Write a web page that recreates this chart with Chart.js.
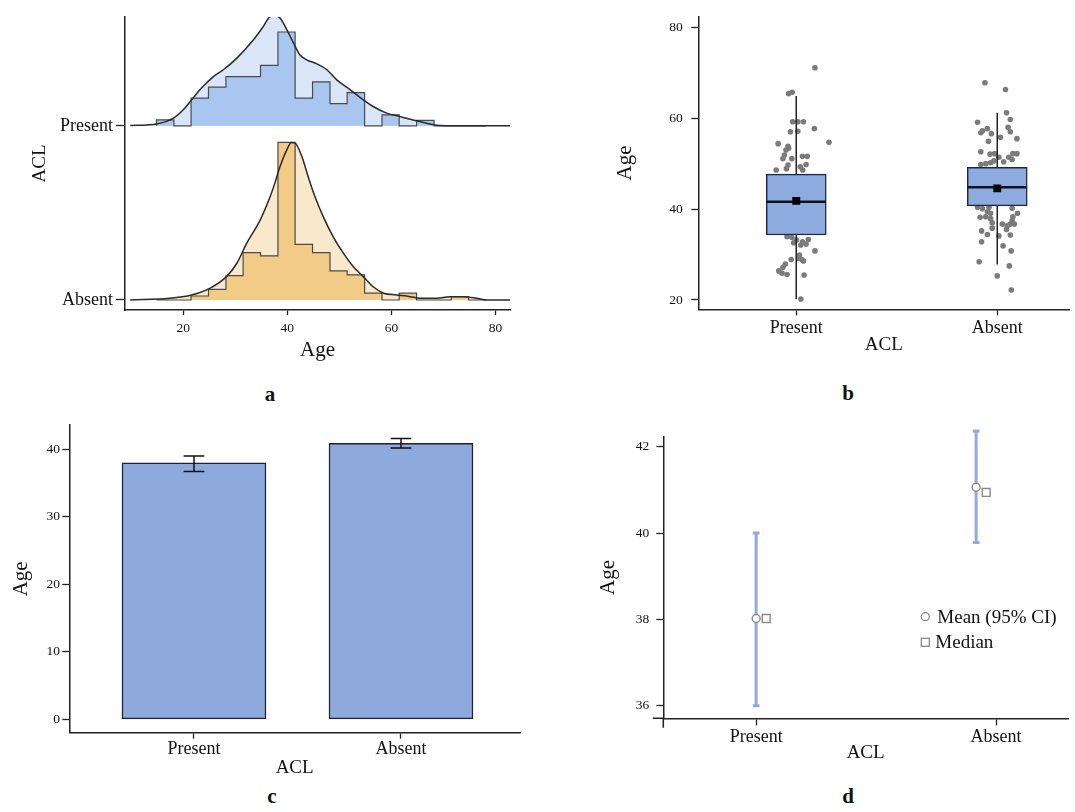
<!DOCTYPE html>
<html>
<head>
<meta charset="utf-8">
<script src="https://cdn.jsdelivr.net/npm/chart.js@4.4.1/dist/chart.umd.min.js"></script>
<style>
html, body { margin: 0; padding: 0; background: #fff; overflow: hidden; }
body { width: 1075px; height: 812px; position: relative; font-family: 'Liberation Serif', serif; }
canvas { position: absolute; }
.tag { position: absolute; font-weight: bold; font-size: 21px; color: #111; transform: translate(-50%, -50%); }
</style>
</head>
<body>
<canvas id="ridge" width="530" height="380" style="left:0;top:0"></canvas>
<canvas id="box" width="515" height="380" style="left:560px;top:0"></canvas>
<canvas id="bars" width="530" height="370" style="left:0;top:410px"></canvas>
<canvas id="ci" width="515" height="370" style="left:560px;top:410px"></canvas>
<div class="tag" style="left:270px;top:394px">a</div>
<div class="tag" style="left:848px;top:393px">b</div>
<div class="tag" style="left:272px;top:796px">c</div>
<div class="tag" style="left:848px;top:796px">d</div>
<script>
// ---- data ----
const acl = ['Present', 'Absent'];

// a: ridgeline, heights in % of the gap between the two rows
const ageTicks = [20, 40, 60, 80];
const binEdges = [14.85, 18.2, 21.5, 24.85, 28.2, 31.5, 34.85, 38.2, 41.5, 44.85, 48.2, 51.5, 54.85, 58.2, 61.5, 64.85, 68.2, 71.5, 74.85, 78.2];
const presentHist = [3.4, 0, 15.9, 22.2, 28.3, 28.3, 34.7, 53.9, 15.9, 25.3, 12.8, 19.1, 0, 6.3, 0, 3.1, 0, 0, 0];
const absentHist = [0, 0, 2.3, 6.1, 14.0, 27.2, 25.3, 90.5, 31.9, 27.2, 16.7, 14.4, 3.9, 0, 3.9, 0, 0, 1.9, 0];
const presentDensAge = [9.8, 14.9, 18.1, 20.0, 21.6, 23.5, 25.8, 27.7, 30.3, 33.5, 35.4, 36.7, 37.6, 38.6, 39.9, 41.2, 42.4, 43.7, 45.7, 47.6, 49.5, 52.1, 54.6, 56.5, 59.1, 61.7, 64.2, 67.4, 69.4, 75, 82.8];
const presentDens = [0.2, 1.1, 4.4, 9.2, 14.9, 21.7, 28.3, 32.2, 38.9, 49.4, 57.1, 62.8, 63.2, 61.9, 55.2, 47.5, 40.8, 37.9, 35.6, 32.2, 26.4, 20.7, 14.9, 11.1, 7.3, 5.3, 3.4, 1.1, 0.2, 0, 0];
const absentDensAge = [9.8, 17.4, 21.6, 25.1, 28.3, 30.3, 32.2, 34.8, 36.7, 37.6, 38.6, 39.9, 40.8, 41.5, 42.8, 44.0, 45.3, 46.9, 48.8, 50.8, 52.7, 54.6, 56.5, 58.5, 61.0, 63.6, 65.5, 68.7, 71.3, 73.8, 76.4, 78.3, 82.8];
const absentDens = [0, 1.0, 2.9, 6.7, 13.4, 21.1, 32.6, 46.0, 59.4, 67.1, 76.6, 86.2, 90.4, 90.1, 82.4, 70.9, 59.4, 47.9, 36.4, 26.8, 19.1, 13.4, 7.6, 3.9, 2.9, 1.9, 1.0, 1.0, 1.9, 1.9, 1.0, 0, 0];

// b: box plot with jittered points (jitter in category widths)
const presentAge = [71.1, 65.4, 65.7, 59.2, 59.2, 59.2, 57.0, 57.1, 57.7, 54.7, 54.4, 53.8, 53.0, 53.4, 51.9, 51.1, 51.1, 51.6, 51.6, 49.8, 49.7, 48.9, 48.6, 49.3, 48.6, 33.9, 33.8, 33.2, 32.8, 33.3, 32.6, 32.1, 32.3, 30.8, 29.9, 28.9, 29.2, 28.9, 28.6, 27.9, 27.2, 26.4, 25.9, 25.6, 25.5, 20.2];
const presentJit = [0.093, -0.038, -0.020, -0.018, 0.008, 0.036, -0.029, 0.008, 0.090, 0.163, -0.090, -0.041, -0.051, -0.038, -0.059, -0.066, -0.022, 0.031, 0.055, 0.049, -0.041, -0.049, -0.100, 0.020, 0.032, -0.046, -0.022, 0.001, 0.031, 0.060, -0.013, 0.023, 0.049, 0.093, 0.016, 0.027, 0.011, -0.025, 0.036, -0.054, -0.066, -0.087, -0.071, -0.046, 0.039, 0.023];
const absentAge = [67.8, 66.3, 61.2, 59.7, 59.1, 57.7, 57.2, 56.8, 56.6, 58.0, 57.0, 55.8, 55.5, 54.9, 52.6, 52.1, 52.2, 51.4, 50.4, 51.4, 52.2, 52.2, 50.9, 49.8, 50.0, 50.2, 50.6, 40.4, 40.1, 40.4, 39.4, 39.1, 38.2, 38.3, 37.9, 40.2, 39.1, 38.3, 37.4, 36.7, 37.0, 36.7, 36.3, 36.7, 35.2, 34.4, 35.8, 34.3, 35.5, 34.1, 32.8, 31.9, 30.8, 28.4, 27.5, 25.3, 22.2];
const absentJit = [-0.061, 0.041, 0.046, 0.065, -0.098, -0.049, -0.074, -0.082, -0.029, 0.054, 0.065, 0.016, 0.098, -0.044, -0.082, -0.036, -0.013, 0.008, 0.032, 0.057, 0.078, 0.098, 0.074, -0.082, -0.057, -0.033, -0.017, -0.098, -0.074, -0.041, -0.049, -0.033, -0.085, -0.057, -0.033, 0.074, 0.101, 0.078, 0.074, 0.085, -0.025, 0.025, 0.049, 0.065, -0.078, -0.049, -0.025, 0.065, 0.046, 0.008, -0.078, 0.029, 0.069, -0.090, 0.060, 0.000, 0.070];
const boxQ1 = [34.3, 40.7];
const boxMed = [41.6, 44.8];
const boxQ3 = [47.7, 49.2];
const whiskLo = [20.15, 27.8];
const whiskHi = [64.9, 61.2];
const boxMean = [41.8, 44.55];

// c: mean bars with error bars
const barMean = [38.0, 40.9];
const barLo = [36.7, 40.2];
const barHi = [39.0, 41.6];

// d: mean (95% CI) and median
const ciMean = [38.02, 41.06];
const ciMedian = [38.02, 40.94];
const ciLo = [36.0, 39.78];
const ciHi = [40.0, 42.36];
const ciShift = [0, -0.083];

// ---- helpers ----
const INK = '#222';
Chart.defaults.font.family = "'Liberation Serif', 'Times New Roman', serif";
Chart.defaults.color = '#111';
Chart.defaults.animation = false;
Chart.defaults.plugins.legend.display = false;
Chart.defaults.plugins.tooltip.enabled = false;

function makeAxis(o) {
  return {
    type: 'linear', min: o.min, max: o.max, offset: false,
    afterBuildTicks: s => { s.ticks = o.ticks.map(v => ({ value: v })); },
    afterFit: s => { if (s.isHorizontal()) s.height = o.size; else s.width = o.size; },
    grid: { offset: false, drawOnChartArea: false, tickLength: o.tick, tickColor: INK, tickWidth: 1.3 },
    border: { color: INK, width: 1.5 },
    ticks: { font: { size: o.font }, padding: o.pad, color: '#111', maxRotation: 0, autoSkip: false, callback: o.label || (v => v) },
    title: { display: true, text: o.title, font: { size: o.titleSize }, padding: o.titlePad, color: '#111' }
  };
}
const catLabel = v => acl[v - 1];

function seg(x0, y0, x1, y1, color, width, order, extra) {
  return Object.assign({
    type: 'line', data: [{ x: x0, y: y0 }, { x: x1, y: y1 }],
    borderColor: color, borderWidth: width, pointRadius: 0, fill: false, order
  }, extra || {});
}

// ---- a: ridgeline ----
const ridgeRows = [
  { name: 'Absent', base: 0, hist: absentHist, densAge: absentDensAge, dens: absentDens, light: '#f9e8cb', mid: '#f2cb86' },
  { name: 'Present', base: 100, hist: presentHist, densAge: presentDensAge, dens: presentDens, light: '#dae6f8', mid: '#a9c6f1' }
];
const ridgeSets = [];
ridgeRows.forEach(r => {
  const curve = r.densAge.map((x, i) => ({ x, y: r.base + r.dens[i] }));
  const steps = [{ x: binEdges[0], y: r.base }]
    .concat(r.hist.map((h, i) => ({ x: binEdges[i], y: r.base + h })))
    .concat([{ x: binEdges[binEdges.length - 1], y: r.base }]);
  ridgeSets.push(
    { type: 'line', data: curve, fill: { value: r.base }, backgroundColor: r.light, borderColor: 'transparent', borderWidth: 0, pointRadius: 0, cubicInterpolationMode: 'monotone', order: 3 },
    { type: 'line', data: steps, stepped: 'before', fill: { value: r.base }, backgroundColor: r.mid, borderColor: '#4a4a4a', borderWidth: 1.2, pointRadius: 0, order: 2 },
    { type: 'line', data: curve, fill: false, borderColor: '#2a2a2a', borderWidth: 1.5, pointRadius: 0, cubicInterpolationMode: 'monotone', order: 1 }
  );
});

new Chart(document.getElementById('ridge'), {
  type: 'scatter',
  data: { datasets: ridgeSets },
  options: {
    responsive: false,
    layout: { padding: { top: 17, right: 20, left: 0, bottom: 0 } },
    scales: {
      x: makeAxis({ min: 8.8, max: 82.8, ticks: ageTicks, size: 70, tick: 5, pad: 5, font: 13.5, title: 'Age', titleSize: 21, titlePad: { top: 0, bottom: 17.4 } }),
      y: makeAxis({ min: -5.75, max: 162.5, ticks: [0, 100], label: v => ridgeRows.find(r => r.base === v).name, size: 125, tick: 9, pad: 3, font: 18, title: 'ACL', titleSize: 19, titlePad: { top: 28.6, bottom: 0 } })
    }
  }
});

// ---- b: box plot ----
const boxSets = [];
[[presentAge, presentJit], [absentAge, absentJit]].forEach(([ages, jit], i) => {
  const c = i + 1;
  boxSets.push({ type: 'scatter', data: ages.map((a, k) => ({ x: c + jit[k], y: a })), pointRadius: 2.8, backgroundColor: '#7b7b7b', borderWidth: 0, order: 5 });
  boxSets.push(seg(c, whiskLo[i], c, whiskHi[i], INK, 1.5, 4));
  boxSets.push(seg(c - 0.147, boxMed[i], c + 0.147, boxMed[i], '#0d1220', 2.6, 2));
});
boxSets.push({
  type: 'bar', data: acl.map((g, i) => ({ x: i + 1, y: [boxQ1[i], boxQ3[i]] })),
  backgroundColor: '#8dabdf', borderColor: '#1c2744', borderWidth: 1.5, borderSkipped: false, barThickness: 60, order: 3
});
boxSets.push({
  type: 'scatter', data: acl.map((g, i) => ({ x: i + 1, y: boxMean[i] })),
  pointStyle: 'rect', pointRadius: 5.6, backgroundColor: '#000', borderWidth: 0, order: 1
});

new Chart(document.getElementById('box'), {
  type: 'scatter',
  data: { datasets: boxSets },
  options: {
    responsive: false,
    layout: { padding: { top: 16.7, right: 0, left: 0, bottom: 0 } },
    scales: {
      x: makeAxis({ min: 0.5127, max: 2.359, ticks: [1, 2], label: catLabel, size: 70.7, tick: 6, pad: 2.4, font: 18, title: 'ACL', titleSize: 19, titlePad: { top: 0, bottom: 23.6 } }),
      y: makeAxis({ min: 17.95, max: 82.33, ticks: [20, 40, 60, 80], size: 138.3, tick: 7, pad: 8.6, font: 13.5, title: 'Age', titleSize: 21, titlePad: { top: 52.4, bottom: 0 } })
    }
  }
});

// ---- c: bars ----
const barSets = [{
  type: 'bar', data: acl.map((g, i) => ({ x: i + 1, y: barMean[i] })),
  backgroundColor: '#8eaadc', borderColor: '#1e2133', borderWidth: 1.5, borderSkipped: false, barThickness: 144, order: 2
}];
acl.forEach((g, i) => {
  const c = i + 1;
  barSets.push(seg(c, barLo[i], c, barHi[i], '#111', 1.5, 1));
  barSets.push(seg(c - 0.05, barHi[i], c + 0.05, barHi[i], '#111', 1.5, 1));
  barSets.push(seg(c - 0.05, barLo[i], c + 0.05, barLo[i], '#111', 1.5, 1));
});

new Chart(document.getElementById('bars'), {
  type: 'scatter',
  data: { datasets: barSets },
  options: {
    responsive: false,
    layout: { padding: { top: 15, right: 10, left: 0, bottom: 0 } },
    scales: {
      x: makeAxis({ min: 0.3976, max: 2.575, ticks: [1, 2], label: catLabel, size: 47.3, tick: 6, pad: 0, font: 18, title: 'ACL', titleSize: 19, titlePad: { top: 0, bottom: 0.9 } }),
      y: makeAxis({ min: -1.985, max: 43.6, ticks: [0, 10, 20, 30, 40], size: 69.3, tick: 7, pad: 2.3, font: 13.5, title: 'Age', titleSize: 21, titlePad: { top: 9.1, bottom: 0 } })
    }
  }
});

// ---- d: mean (95% CI) / median ----
const ciBlue = '#8eaadf';
const ciSets = [];
acl.forEach((g, i) => {
  const c = i + 1 + ciShift[i];
  ciSets.push(seg(c, ciLo[i], c, ciHi[i], ciBlue, 3, 3, { clip: false }));
  ciSets.push(seg(c - 0.014, ciHi[i], c + 0.014, ciHi[i], ciBlue, 3, 3, { clip: false }));
  ciSets.push(seg(c - 0.014, ciLo[i], c + 0.014, ciLo[i], ciBlue, 3, 3, { clip: false }));
});
ciSets.push({
  type: 'scatter', data: acl.map((g, i) => ({ x: i + 1 + ciShift[i] + 0.042, y: ciMedian[i] })),
  pointStyle: 'rect', pointRadius: 5.6, backgroundColor: '#fff', borderColor: '#8a8a8a', borderWidth: 1.4, order: 2
});
ciSets.push({
  type: 'scatter', data: acl.map((g, i) => ({ x: i + 1 + ciShift[i], y: ciMean[i] })),
  pointStyle: 'circle', pointRadius: 4, backgroundColor: '#fff', borderColor: '#8a8a8a', borderWidth: 1.4, order: 1
});

const ciLegend = {
  id: 'ciLegend',
  afterDraw(chart) {
    const { ctx, chartArea: a } = chart;
    const x = a.left + 262, y = a.top + 180;
    ctx.save();
    ctx.strokeStyle = '#8a8a8a';
    ctx.lineWidth = 1.3;
    ctx.beginPath();
    ctx.arc(x, y, 4, 0, Math.PI * 2);
    ctx.stroke();
    ctx.strokeRect(x - 4, y + 21.6, 8, 8);
    ctx.fillStyle = '#111';
    ctx.font = "19px 'Liberation Serif'";
    ctx.textBaseline = 'middle';
    ctx.fillText('Mean (95% CI)', x + 12, y + 1.5);
    ctx.fillText('Median', x + 10, y + 26.5);
    ctx.restore();
  }
};
// the axes of d run a little past their crossing point
const axisStubs = {
  id: 'axisStubs',
  afterDraw(chart) {
    const { ctx, chartArea: a } = chart;
    ctx.save();
    ctx.strokeStyle = INK;
    ctx.lineWidth = 1.5;
    ctx.beginPath();
    ctx.moveTo(a.left - 10.5, a.bottom);
    ctx.lineTo(a.left, a.bottom);
    ctx.moveTo(a.left, a.bottom);
    ctx.lineTo(a.left, a.bottom + 9.5);
    ctx.stroke();
    ctx.restore();
  }
};

new Chart(document.getElementById('ci'), {
  type: 'scatter',
  data: { datasets: ciSets },
  options: {
    responsive: false,
    layout: { padding: { top: 26.7, right: 0, left: 0, bottom: 0 } },
    scales: {
      x: makeAxis({ min: 0.613, max: 2.30, ticks: [1, 2], label: catLabel, size: 61.7, tick: 7, pad: 1.6, font: 18, title: 'ACL', titleSize: 19, titlePad: { top: 0, bottom: 15.9 } }),
      y: makeAxis({ min: 35.71, max: 42.23, ticks: [36, 38, 40, 42], size: 103.3, tick: 7, pad: 7, font: 13.5, title: 'Age', titleSize: 21, titlePad: { top: 35.7, bottom: 0 } })
    }
  },
  plugins: [ciLegend, axisStubs]
});
</script>
</body>
</html>
